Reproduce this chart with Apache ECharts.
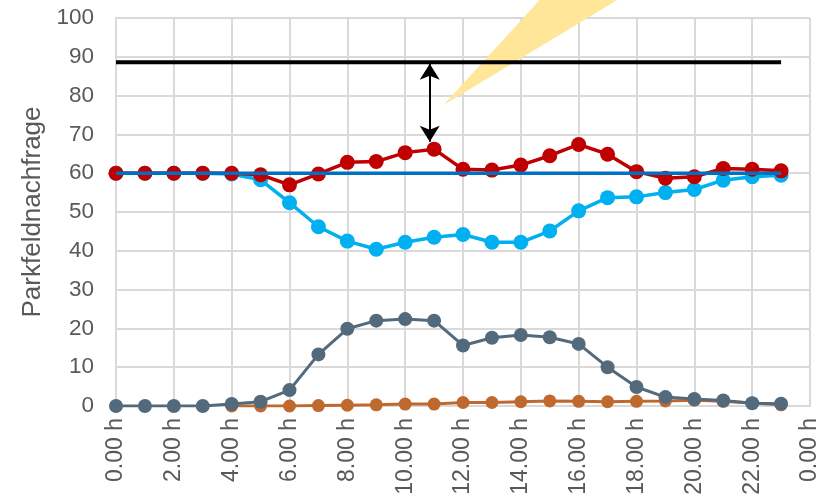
<!DOCTYPE html>
<html>
<head>
<meta charset="utf-8">
<script src="https://cdn.jsdelivr.net/npm/echarts@6/dist/echarts.min.js"></script>
<style>
  html, body { margin: 0; padding: 0; background: #fff; }
  #chart { width: 831px; height: 498px; }
</style>
</head>
<body>
<div id="chart"></div>
<script>
// Stunden 0..23
const hours = [0, 1, 2, 3, 4, 5, 6, 7, 8, 9, 10, 11, 12, 13, 14, 15, 16, 17, 18, 19, 20, 21, 22, 23];

const redValues   = [60, 60, 60, 60, 60, 59.6, 57.0, 59.8, 62.8, 63.0, 65.3, 66.2, 61.0, 60.8, 62.1, 64.5, 67.4, 64.9, 60.4, 58.7, 59.1, 61.2, 61.0, 60.6];
const cyanValues  = [60, 60, 60, 60, 59.8, 58.3, 52.4, 46.2, 42.5, 40.4, 42.2, 43.5, 44.2, 42.2, 42.2, 45.1, 50.3, 53.7, 53.9, 55.0, 55.8, 58.2, 59.1, 59.5];
const slateValues = [0, 0, 0, 0, 0.5, 1.1, 4.1, 13.3, 19.9, 22.0, 22.4, 22.0, 15.6, 17.6, 18.3, 17.7, 16.0, 10.0, 4.9, 2.3, 1.8, 1.4, 0.7, 0.6];
const orangeHours = [4, 5, 6, 7, 8, 9, 10, 11, 12, 13, 14, 15, 16, 17, 18, 19, 20, 21, 22, 23];
const orangeValues = [0, 0, 0, 0.1, 0.2, 0.3, 0.5, 0.5, 0.9, 0.9, 1.1, 1.3, 1.2, 1.1, 1.2, 1.3, 1.5, 1.2, 0.8, 0.3];
const capacity = 60;       // blaue Linie
const maxDemand = 88.6;    // schwarze Linie
const lineSpan = [0, 23];

// Pfeil und Hinweis-Dreieck (Datenkoordinaten)
const arrowX = 10.85;
const arrowRange = [88.2, 68.1];
const calloutPts = [[11.33, 77.6], [14.67, 104.8], [17.37, 104.8]];

// x-Achsenbeschriftung
const xTickLabel = v => (v % 24).toFixed(2) + ' h';

const chart = echarts.init(document.getElementById('chart'));

const pairs = (xs, ys) => xs.map((x, i) => [x, ys[i]]);

const font = 'Liberation Sans, Arial, sans-serif';
const gridColor = '#d9d9d9';

const option = {
  animation: false,
  backgroundColor: '#fff',
  grid: { left: 116, right: 21, top: 18, bottom: 92, containLabel: false },
  xAxis: {
    type: 'value',
    min: 0,
    max: 24,
    interval: 2,
    axisLine: { show: true, lineStyle: { color: gridColor, width: 2 } },
    axisTick: { show: false },
    splitLine: { show: true, lineStyle: { color: gridColor, width: 2 } },
    axisLabel: {
      rotate: 90,
      margin: 12,
      fontSize: 23,
      color: '#595959',
      fontFamily: font,
      formatter: xTickLabel
    }
  },
  yAxis: {
    type: 'value',
    min: 0,
    max: 100,
    interval: 10,
    name: 'Parkfeldnachfrage',
    nameLocation: 'middle',
    nameGap: 67,
    nameTextStyle: { fontSize: 26, color: '#595959', fontFamily: font },
    axisLine: { show: true, lineStyle: { color: gridColor, width: 2 } },
    axisTick: { show: false },
    splitLine: { show: true, lineStyle: { color: gridColor, width: 2 } },
    axisLabel: { margin: 22, fontSize: 22.5, color: '#595959', fontFamily: font }
  },
  series: [
    {
      name: 'Hinweis',
      type: 'custom',
      z: 1,
      silent: true,
      data: [0],
      renderItem: (params, api) => ({
        type: 'polygon',
        shape: { points: calloutPts.map(p => api.coord(p)) },
        style: { fill: '#ffe699' }
      })
    },
    {
      name: 'Orange',
      type: 'line',
      z: 2,
      data: pairs(orangeHours, orangeValues),
      symbol: 'circle',
      symbolSize: 13,
      lineStyle: { color: '#c0692f', width: 3 },
      itemStyle: { color: '#c0692f' }
    },
    {
      name: 'Grau',
      type: 'line',
      z: 3,
      data: pairs(hours, slateValues),
      symbol: 'circle',
      symbolSize: 14,
      lineStyle: { color: '#536a7d', width: 3 },
      itemStyle: { color: '#536a7d' }
    },
    {
      name: 'Hellblau',
      type: 'line',
      z: 4,
      data: pairs(hours, cyanValues),
      symbol: 'circle',
      symbolSize: 15,
      lineStyle: { color: '#00b0f0', width: 3.5 },
      itemStyle: { color: '#00b0f0' }
    },
    {
      name: 'Rot',
      type: 'line',
      z: 5,
      data: pairs(hours, redValues),
      symbol: 'circle',
      symbolSize: 15,
      lineStyle: { color: '#c00000', width: 3.5 },
      itemStyle: { color: '#c00000' }
    },
    {
      name: 'Kapazität',
      type: 'line',
      z: 6,
      data: lineSpan.map(h => [h, capacity]),
      symbol: 'none',
      lineStyle: { color: '#0070c0', width: 3.5 }
    },
    {
      name: 'Maximum',
      type: 'line',
      z: 7,
      data: lineSpan.map(h => [h, maxDemand]),
      symbol: 'none',
      lineStyle: { color: '#000', width: 4 },
      markLine: {
        silent: true,
        symbol: ['arrow', 'arrow'],
        symbolSize: [15, 16],
        label: { show: false },
        lineStyle: { color: '#000', width: 2, type: 'solid' },
        data: [[{ coord: [arrowX, arrowRange[0]] }, { coord: [arrowX, arrowRange[1]] }]]
      }
    }
  ]
};

chart.setOption(option);
</script>
</body>
</html>
